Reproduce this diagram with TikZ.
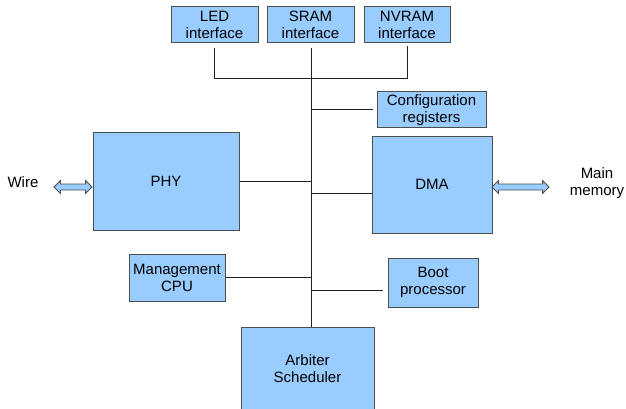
\documentclass[tikz,border=0pt]{standalone}
\usepackage{fontspec}
\setmainfont{Liberation Sans}
\usetikzlibrary{shapes.arrows}
\definecolor{boxfill}{HTML}{99CCFF}
\definecolor{boxline}{HTML}{4D4D4D}
\definecolor{wire}{HTML}{222222}
\begin{document}
\begin{tikzpicture}[x=1pt,y=-1pt,
  blk/.style={draw=boxline,fill=boxfill,line width=1pt,inner sep=0pt,align=center,
    font=\fontsize{15}{17}\selectfont},
  conn/.style={draw=wire,line width=1pt},
  fatarrow/.style={double arrow,draw=boxline,fill=boxfill,line width=0.8pt,inner xsep=0pt,
    inner ysep=2.6pt,double arrow head extend=3.4pt},
  lbl/.style={align=center,inner sep=0pt,font=\fontsize{15}{17}\selectfont}]
\useasboundingbox (0,0) rectangle (626,409);
\node[blk,minimum width=87pt,minimum height=36pt] (led) at (214.5,25) {LED\\interface};
\node[blk,minimum width=87pt,minimum height=36pt] (sram) at (310.5,25) {SRAM\\interface};
\node[blk,minimum width=86pt,minimum height=36pt] (nvram) at (407,25) {NVRAM\\interface};
\node[blk,minimum width=109pt,minimum height=36pt] (cfg) at (431.5,110) {Configuration\\registers};
\node[blk,minimum width=146pt,minimum height=97pt] (phy) at (166,181.5) {PHY};
\node[blk,minimum width=120pt,minimum height=97pt] (dma) at (432,184.5) {DMA};
\node[blk,minimum width=96pt,minimum height=47pt] (mgmt) at (177,277.5) {Management\\CPU};
\node[blk,minimum width=90pt,minimum height=49pt] (boot) at (433,282.5) {Boot\\processor};
\node[blk,minimum width=133pt,minimum height=84pt] (arb) at (307.5,369) {Arbiter\\Scheduler};
\coordinate (bus) at (311,79);
\coordinate (dmaIn) at ([yshift=-8.5pt]dma.west);
\coordinate (bootIn) at ([xshift=-5pt,yshift=-7.5pt]boot.west);
% bus
\draw[conn] ([yshift=-5pt]bus |- sram.south) -- (bus |- arb.north);
\draw[conn] ([yshift=-5pt]led.south) |- (bus -| nvram.south) -- ([yshift=-3pt]nvram.south);
\draw[conn] (bus |- cfg.west) -- ([xshift=-4pt]cfg.west);
\draw[conn] (phy.east) -- (bus |- phy.east);
\draw[conn] (dmaIn) -- (bus |- dmaIn);
\draw[conn] (mgmt.east) -- (bus |- mgmt.east);
\draw[conn] (bus |- bootIn) -- (bootIn);
% external arrows
\node[fatarrow,minimum height=38pt] (warr) at (73,187) {};
\node[fatarrow,minimum height=57pt] (marr) at (520.5,187) {};
\node[lbl] (wire) at (23,182) {Wire};
\node[lbl] (mem) at (597,183) {Main\\memory};
\end{tikzpicture}
\end{document}
